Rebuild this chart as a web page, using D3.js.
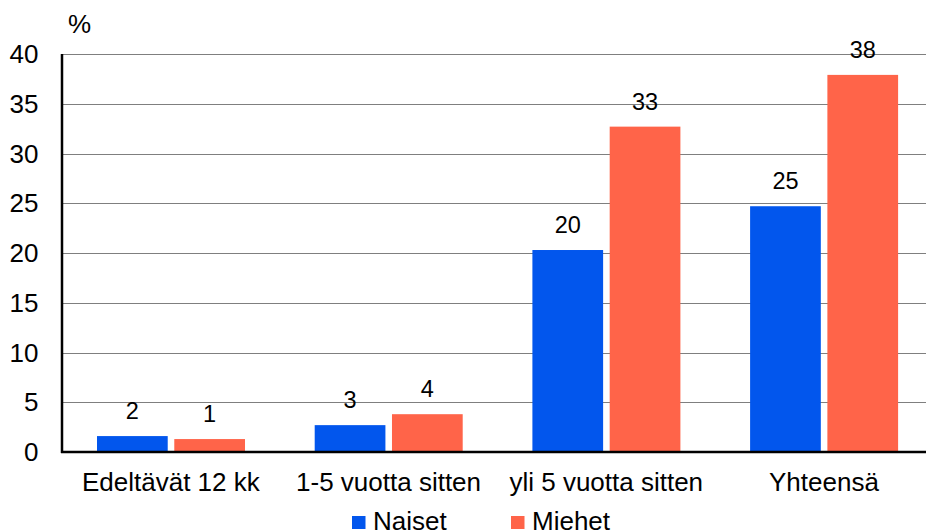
<!DOCTYPE html>
<html>
<head>
<meta charset="utf-8">
<script src="https://cdn.jsdelivr.net/npm/d3@7"></script>
<style>
  html, body { margin: 0; padding: 0; background: #fff; }
  svg { display: block; font-family: "Liberation Sans", Arial, sans-serif; }
</style>
</head>
<body>
<svg id="chart" width="926" height="532"></svg>
<script>
const categories = ["Edeltävät 12 kk", "1-5 vuotta sitten", "yli 5 vuotta sitten", "Yhteensä"];
const seriesNames = ["Naiset", "Miehet"];
const naiset = [1.6, 2.7, 20.3, 24.7];
const miehet = [1.3, 3.8, 32.7, 37.9];
const yTicks = [0, 5, 10, 15, 20, 25, 30, 35, 40];
const colors = ["#0256ED", "#FF6449"];

(function () {
const seriesValues = [naiset, miehet];
const rows = categories.map((c, i) => ({ cat: c, vals: seriesValues.map((s, j) => ({ name: seriesNames[j], v: s[i], j })) }));

const svg = d3.select("#chart");
const mLeft = 62, mRight = 932.8, mTop = 54, mBottom = 452;

const y = d3.scaleLinear().domain([0, 40]).range([mBottom, mTop]);
const x0 = d3.scaleBand().domain(categories).range([mLeft, mRight]).padding(0);
const groupOffset = 35, groupWidth = 148;
const x1 = d3.scaleBand().domain(seriesNames).range([groupOffset, groupOffset + groupWidth]).paddingInner(0.085);

// gridlines
svg.append("g").selectAll("line").data(yTicks.filter(t => t > 0)).join("line")
  .attr("x1", mLeft).attr("x2", 926)
  .attr("y1", d => Math.round(y(d)) + 0.5).attr("y2", d => Math.round(y(d)) + 0.5)
  .attr("stroke", "#7f7f7f").attr("stroke-width", 1);

// y tick labels
svg.append("g").selectAll("text").data(yTicks).join("text")
  .attr("x", 38.5).attr("y", d => y(d)).attr("dy", "0.35em")
  .attr("text-anchor", "end").attr("font-size", 26).attr("fill", "#000")
  .text(d => d);

// % label
svg.append("text").attr("x", 68).attr("y", 33).attr("font-size", 26).attr("fill", "#000").text("%");

// bars
const g = svg.append("g").selectAll("g").data(rows).join("g")
  .attr("transform", d => `translate(${x0(d.cat)},0)`);
g.selectAll("rect").data(d => d.vals).join("rect")
  .attr("x", d => x1(d.name)).attr("width", x1.bandwidth())
  .attr("y", d => y(d.v)).attr("height", d => y(0) - y(d.v))
  .attr("fill", d => colors[d.j]);
g.selectAll("text").data(d => d.vals).join("text")
  .attr("x", d => x1(d.name) + x1.bandwidth() / 2).attr("y", d => y(d.v) - 17)
  .attr("text-anchor", "middle").attr("font-size", 23.5).attr("fill", "#000")
  .text(d => Math.round(d.v));

// axes lines
svg.append("line").attr("x1", mLeft).attr("x2", mLeft).attr("y1", mTop).attr("y2", mBottom + 1)
  .attr("stroke", "#000").attr("stroke-width", 2.5);
svg.append("line").attr("x1", mLeft - 1).attr("x2", 926).attr("y1", mBottom).attr("y2", mBottom)
  .attr("stroke", "#000").attr("stroke-width", 2.5);

// category labels
svg.append("g").selectAll("text").data(categories).join("text")
  .attr("x", d => x0(d) + x0.bandwidth() / 2).attr("y", 491)
  .attr("text-anchor", "middle").attr("font-size", 26).attr("fill", "#000")
  .text(d => d);

// legend
const legendX = [352, 511];
const lg = svg.append("g").selectAll("g").data(seriesNames).join("g")
  .attr("transform", (d, i) => `translate(${legendX[i]},0)`);
lg.append("rect").attr("x", 0).attr("y", 516).attr("width", 13.5).attr("height", 13)
  .attr("fill", (d, i) => colors[i]);
lg.append("text").attr("x", 21).attr("y", 529.5).attr("font-size", 26).attr("fill", "#000").text(d => d);
})();
</script>
</body>
</html>
